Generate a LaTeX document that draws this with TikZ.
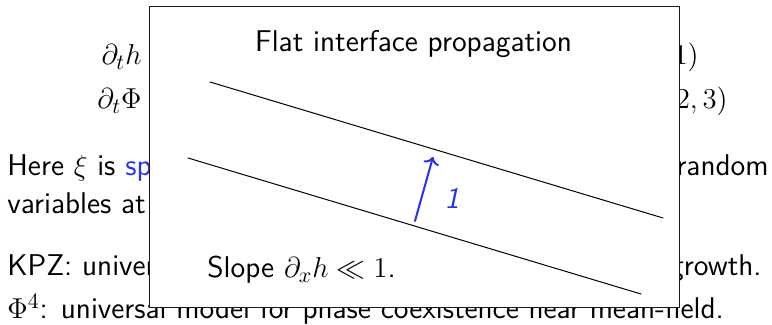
\documentclass[tikz,border=0pt]{standalone}
\usepackage{amsmath,amssymb}
\usepackage{xcolor}
\usepackage{tikz}
\usetikzlibrary{arrows.meta,calc,positioning}
\definecolor{linkblue}{RGB}{40,50,235}
\definecolor{slideline}{HTML}{1A1A1A}
\tikzset{
every picture/.style={line cap=round,line join=round},
slide text/.style={inner sep=0pt, font=\fontsize{15}{18}\selectfont\sffamily, text=black},
popup box/.style={draw=slideline, fill=white, line width=0.5pt},
front line/.style={draw=black, line width=0.5pt},
move arrow/.style={draw=linkblue, ->, line width=1pt}
}
\begin{document}
\begin{tikzpicture}[x=0.5pt,y=-0.5pt]
\useasboundingbox (0,0) rectangle (772,325);
% slide underneath
\node[slide text, anchor=base east] (eqh) at (142,65) {$\partial_t h$};
\node[slide text, anchor=base east] (eqphi) at (142,109) {$\partial_t \Phi$};
\node[slide text, anchor=base east] (tagone) at (699,65) {$(1)$};
\node[slide text, anchor=base east] (tagtwo) at (728,109) {$(2,3)$};
\node[slide text, anchor=base west] (herel) at (7,176) {Here $\xi$ is \textcolor{linkblue}{spa}};
\node[slide text, anchor=base east] (herer) at (769,176) {random};
\node[slide text, anchor=base west] (varl) at (7,214) {variables at};
\node[slide text, anchor=base west] (kpzl) at (7,276) {KPZ: univers};
\node[slide text, anchor=base east] (kpzr) at (762,276) {growth.};
\node[slide text, anchor=base west] (phil) at (7,319) {$\Phi^4$: universal model for phase coexistence near mean-field.};
% popup
\draw[popup box] (149,7) rectangle (679,308);
\node[slide text, anchor=base] (title) at (413.5,52) {Flat interface propagation};
\coordinate (upa) at (210,82);
\coordinate (upb) at (663,218);
\coordinate (loa) at (188,158);
\coordinate (lob) at (641,294);
\draw[front line] (upa) -- (upb);
\draw[front line] (loa) -- (lob);
\coordinate (arrs) at (415,221);
\coordinate (arre) at (433,157);
\draw[move arrow] (arrs) -- (arre);
\node[slide text, text=linkblue, font=\fontsize{15}{18}\selectfont\sffamily\itshape] (unit) at (452,198) {1};
\node[slide text, anchor=base west] (slope) at (207,278) {Slope $\partial_x h \ll 1$.};
\end{tikzpicture}
\end{document}
